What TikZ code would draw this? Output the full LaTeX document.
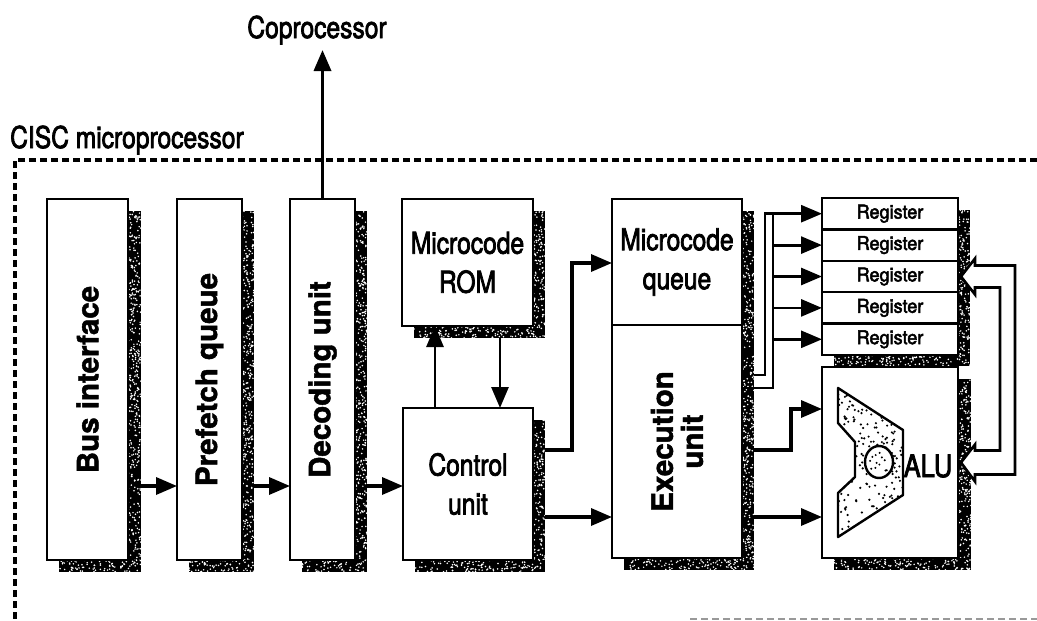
\documentclass[tikz,border=0pt]{standalone}
\usepackage{fontspec}
\setmainfont{TeX Gyre Heros}
\newfontfamily\narrowfont{TeX Gyre Heros}[FakeStretch=0.82,FakeBold=2.5]
\newfontfamily\regfont{TeX Gyre Heros}[FakeStretch=0.95,FakeBold=2.6]
\newfontfamily\rotfont{TeX Gyre Heros Bold}[FakeBold=1.5]
\usetikzlibrary{arrows.meta,calc}
\tikzset{
  box/.style={draw,line width=2.4pt,fill=white,inner sep=0pt,outer sep=0pt},
  conn/.style={line width=3.4pt,-{Triangle[length=21pt,width=17pt]}},
  thinconn/.style={line width=2.8pt,-{Triangle[length=21pt,width=17pt]}},
  feed/.style={line width=2.8pt},
  narrowlbl/.style={font=\narrowfont\fontsize{30}{39}\selectfont,align=center},
  rotlbl/.style={font=\rotfont\fontsize{29.5}{30}\selectfont,rotate=90,align=center,inner sep=0pt},
  reglbl/.style={font=\regfont\fontsize{19}{20}\selectfont},
  frame/.style={line width=3.2pt,dash pattern=on 7pt off 4pt},
}
\newcommand\speckle[4]{%
  \fill[black] (#1,#2) rectangle (#3,#4);
  \pgfmathsetmacro\nd{int(abs((#3-#1)*(#4-#2))/11)}%
  \foreach \k in {1,...,\nd}{\fill[white] ({#1+rnd*(#3-#1)},{#2+rnd*(#4-#2)}) circle (0.85);}%
}
\begin{document}
\begin{tikzpicture}[x=1pt,y=-1pt]
\useasboundingbox (0,0) rectangle (1037,621);
\pgfmathsetseed{11}
% ---- shadows
\speckle{128}{211}{141}{572}\speckle{59}{560}{141}{572}
\speckle{242}{211}{254}{572}\speckle{189}{560}{254}{572}
\speckle{355}{211}{367}{572}\speckle{302}{560}{367}{572}
\speckle{533}{211}{545}{338}\speckle{414}{326}{545}{338}
\speckle{533}{420}{545}{572}\speckle{415}{560}{545}{572}
\speckle{742}{211}{754}{570}\speckle{624}{558}{754}{570}
\speckle{958}{210}{970}{366}\speckle{834}{355}{970}{366}
\speckle{958}{379}{971}{570}\speckle{834}{558}{971}{570}
% ---- frame
\draw[frame] (1037,160) -- (15,160) -- (15,621);
\draw[frame,line width=2.2pt,black!40] (690,619) -- (1037,619);
\node[narrowlbl,anchor=base west,inner sep=0pt] (title) at (10,148) {CISC microprocessor};
\node[narrowlbl,anchor=base,inner sep=0pt] (cop) at (317,38) {Coprocessor};
% ---- boxes
\node[box,minimum width=81pt,minimum height=361pt] (bus) at (87.5,379.5) {};
\node[box,minimum width=65pt,minimum height=361pt] (pre) at (209.5,379.5) {};
\node[box,minimum width=65pt,minimum height=361pt] (dec) at (322.5,379.5) {};
\node[rotlbl] at (bus) {Bus interface};
\node[rotlbl] at (pre) {Prefetch queue};
\node[rotlbl] at (dec) {Decoding unit};
\node[box,narrowlbl,minimum width=131pt,minimum height=127pt] (rom) at (467.5,262.5) {Microcode\\ROM};
\node[box,narrowlbl,minimum width=130pt,minimum height=152pt] (ctl) at (468,484) {Control\\unit};
\node[box,narrowlbl,minimum width=130pt,minimum height=126pt] (mq) at (677,262) {Microcode\\queue};
\node[box,minimum width=130pt,minimum height=233pt] (eu) at (677,441.5) {};
\node[rotlbl] at (eu) {Execution\\unit};
\foreach \k in {1,...,5}
  \node[box,reglbl,minimum width=136pt,minimum height=31.4pt] (reg\k) at (890,{213.7+31.4*(\k-1)}) {Register};
\node[box,minimum width=136pt,minimum height=191pt] (alu) at (890,462.5) {};
% ---- ALU symbol
\filldraw[fill=white,line width=2.4pt,line join=round] (838,388) -- (903,430) -- (903,495) -- (838,537) -- (838,493) -- (855,477) -- (855,442) -- (838,423) -- cycle;
\begin{scope}
  \clip (838,388) -- (903,430) -- (903,495) -- (838,537) -- (838,493) -- (855,477) -- (855,442) -- (838,423) -- cycle;
  \foreach \k in {1,...,200}{\fill[black] ({838+rnd*65},{388+rnd*150}) circle (1.2);}
  \fill[white] (879,462) circle (15);
  \foreach \k in {1,...,12}{\fill[black] ({870+rnd*18},{452+rnd*20}) circle (1.1);}
\end{scope}
\draw[line width=2.4pt] (879,462) ellipse (14 and 16);
\node[font=\narrowfont\fontsize{31}{32}\selectfont,inner sep=0pt] (alut) at (928,466) {ALU};
% ---- connectors
\coordinate (yA) at (0,486);
\coordinate (yB) at (0,450);
\coordinate (yC) at (0,517);
\coordinate (yQ) at (0,263);
\coordinate (yE) at (0,409);
\coordinate (xU) at (435,0);
\coordinate (xD) at (500,0);
\coordinate (xM) at (572,0);
\coordinate (xN) at (791,0);
\draw[conn] ($(bus.east|-yA)+(13,0)$) -- (pre.west|-yA);
\draw[conn] ($(pre.east|-yA)+(12,0)$) -- (dec.west|-yA);
\draw[conn] ($(dec.east|-yA)+(12,0)$) -- (ctl.west|-yA);
\draw[conn] (dec.north) -- ($(dec.north|-cop.base)+(0,12)$);
\draw[thinconn] (ctl.north-|xU) -- (rom.south-|xU);
\draw[thinconn] ($(rom.south-|xD)+(0,12)$) -- (ctl.north-|xD);
\draw[conn] ($(ctl.east|-yB)+(12,0)$) -| (xM|-yQ) -- (mq.west|-yQ);
\draw[conn] ($(ctl.east|-yC)+(12,0)$) -- (eu.west|-yC);
\draw[conn] ($(eu.east|-yB)+(12,0)$) -| (xN|-yE) -- (alu.west|-yE);
\draw[conn] ($(eu.east|-yC)+(12,0)$) -- (alu.west|-yC);
% register feeds
\coordinate (f1) at (754,375);
\coordinate (xf1) at (765,0);
\coordinate (yf2) at (0,388);
\coordinate (xf2) at (773,0);
\draw[thinconn] (f1) -| (xf1|-reg1.west) -- (reg1.west);
\draw[feed] (eu.east|-yf2) -| (xf2|-reg1.west);
\foreach \k in {2,...,5}
  \draw[thinconn] (xf2|-reg\k.west) -- (reg\k.west);
% ---- hollow two-headed arrow between ALU and register
\coordinate (t1) at ($(reg3.east)+(3,0)$);
\coordinate (t2) at ($(alu.east)+(3,0)$);
\filldraw[fill=white,line width=2.6pt,line join=miter]
  (t1) -- ($(t1)+(14,-18)$) -- ($(t1)+(14,-11)$) -- ($(t1)+(54,-11)$)
  -- ($(t2)+(54,12)$) -- ($(t2)+(14,12)$) -- ($(t2)+(14,19)$) -- (t2)
  -- ($(t2)+(14,-18)$) -- ($(t2)+(14,-12)$) -- ($(t2)+(39,-12)$)
  -- ($(t1)+(39,11)$) -- ($(t1)+(14,11)$) -- ($(t1)+(14,18)$) -- cycle;
\end{tikzpicture}
\end{document}
